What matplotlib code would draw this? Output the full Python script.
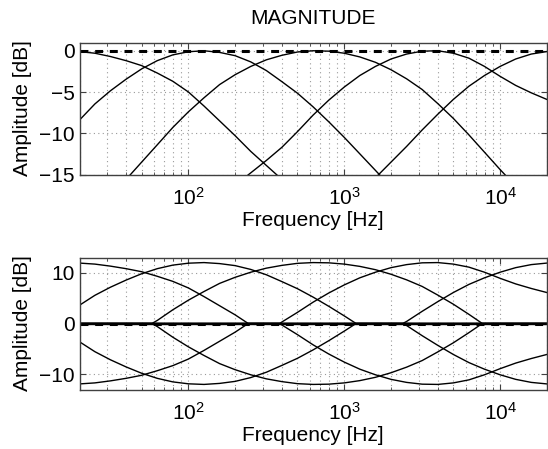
import numpy as np
import matplotlib
matplotlib.use("Agg")
import matplotlib.pyplot as plt
from matplotlib.ticker import LogLocator, NullFormatter, FixedLocator

plt.rcParams['font.family'] = ['Liberation Sans', 'DejaVu Sans']
plt.rcParams['mathtext.fontset'] = 'custom'
plt.rcParams['mathtext.rm'] = 'Liberation Sans'
plt.rcParams['mathtext.it'] = 'Liberation Sans'

nan = np.nan

# ---- frequency grid (Hz), 0.1-decade steps ----
FREQ_HZ = [20, 25.1, 31.6, 39.8, 50.1, 63.1, 79.4, 100, 125.9, 158.5, 199.5,
           251.2, 316.2, 398.1, 501.2, 631, 794.3, 1000, 1259, 1585, 1995,
           2512, 3162, 3981, 5012, 6310, 7943, 10000, 12589, 15849, 19953]

# ---- top panel: band magnitudes (dB) ----
BAND_LOW = [-0.1, -0.3, -0.7, -1.2, -1.8, -2.7, -3.7, -5.0, -6.7, -8.5, -10.3,
            -12.2, -13.9, -15.6, -17.4, nan, nan, nan, nan, nan, nan,
            nan, nan, nan, nan, nan, nan, nan, nan, nan, nan]
BAND_1 = [-8.4, -6.45, -4.85, -3.45, -2.2, -1.2, -0.5, -0.12, 0.0, -0.2, -0.6,
          -1.35, -2.4, -3.75, -5.15, -6.8, -8.6, -10.5, -12.5, -14.5, -16.5,
          -18.5, nan, nan, nan, nan, nan, nan, nan, nan, nan]
BAND_2 = [nan, nan, -17.6, -15.6, -13.5, -11.4, -9.3, -7.4, -5.7, -4.1, -2.9,
          -1.9, -1.1, -0.55, -0.15, 0.0, -0.05, -0.3, -0.75, -1.4, -2.3,
          -3.4, -4.7, -6.4, -8.2, -10.2, -12.3, -14.4, -16.4, -18.4, nan]
BAND_3 = [nan, nan, nan, nan, nan, nan, nan, nan, nan, nan, -16.3,
          -14.8, -13.3, -11.7, -9.8, -7.8, -6.0, -4.4, -3.0, -1.9, -1.0,
          -0.4, -0.05, 0.0, -0.3, -0.9, -1.9, -3.1, -4.2, -5.1, -5.9]
BAND_HIGH = [nan, nan, nan, nan, nan, nan, nan, nan, nan, nan, nan,
             nan, nan, nan, nan, nan, nan, nan, -17.2, -15.4, -13.5,
             -11.6, -9.6, -7.7, -5.9, -4.3, -3.0, -1.9, -1.0, -0.4, -0.1]
SUM_DB = [0.0] * len(FREQ_HZ)

# ---- bottom panel: +12 dB boost per band (cut curves are the mirror) ----
BOOST_LOW_HZ = [20, 25.1, 31.6, 39.8, 50.1, 63.1, 79.4, 100, 125.9, 158.5, 199.5, 242, 20000]
BOOST_LOW_DB = [11.9, 11.7, 11.3, 10.8, 10.2, 9.3, 8.3, 7.0, 5.3, 3.5, 1.7, 0.0, 0.0]

BOOST_1_HZ = [20, 25.1, 31.6, 39.8, 50.1, 63.1, 79.4, 100, 125.9, 158.5, 199.5,
              251.2, 316.2, 398.1, 501.2, 631, 794.3, 1000, 1191, 20000]
BOOST_1_DB = [3.6, 5.55, 7.15, 8.55, 9.8, 10.8, 11.5, 11.88, 12.0, 11.8, 11.4,
              10.65, 9.6, 8.25, 6.85, 5.2, 3.4, 1.5, 0.0, 0.0]

BOOST_2_HZ = [20, 58.3, 63.1, 79.4, 100, 125.9, 158.5, 199.5, 251.2, 316.2, 398.1,
              501.2, 631, 794.3, 1000, 1259, 1585, 1995, 2512, 3162, 3981,
              5012, 6310, 7690, 20000]
BOOST_2_DB = [0.0, 0.0, 0.6, 2.7, 4.6, 6.3, 7.9, 9.1, 10.1, 10.9, 11.45,
              11.85, 12.0, 11.95, 11.7, 11.25, 10.6, 9.7, 8.6, 7.3, 5.6,
              3.8, 1.8, 0.0, 0.0]

BOOST_3_HZ = [20, 385, 398.1, 501.2, 631, 794.3, 1000, 1259, 1585, 1995, 2512,
              3162, 3981, 5012, 6310, 7943, 10000, 12589, 15849, 19953]
BOOST_3_DB = [0.0, 0.0, 0.3, 2.2, 4.2, 6.0, 7.6, 9.0, 10.1, 11.0, 11.6,
              11.95, 12.0, 11.7, 11.1, 10.1, 8.9, 7.8, 6.9, 6.1]

BOOST_HIGH_HZ = [20, 2371, 2512, 3162, 3981, 5012, 6310, 7943, 10000, 12589, 15849, 19953]
BOOST_HIGH_DB = [0.0, 0.0, 0.4, 2.4, 4.3, 6.1, 7.7, 9.0, 10.1, 11.0, 11.6, 11.9]

FLAT_DB = [0.0, 0.0]
FLAT_HZ = [20, 20000]

TOP_YTICKS = [-15, -10, -5, 0]
BOT_YTICKS = [-10, 0, 10]

W, H = 548, 449
fig = plt.figure(figsize=(W / 100, H / 100), dpi=100)
ax1 = fig.add_axes([79.5 / W, 1 - 174.5 / H, (547 - 79.5) / W, (174.5 - 42.5) / H])
ax2 = fig.add_axes([79.5 / W, 1 - 389.5 / H, (547 - 79.5) / W, (389.5 - 257.5) / H])

FS = 15
lc = 'black'
DASH = (0, (2.6, 2.2))
for ax in (ax1, ax2):
    ax.set_xscale('log')
    ax.set_xlim(20, 20000)
    ax.grid(True, which='major', axis='both', linestyle=(0, (1, 3)), color='0.6', lw=0.8)
    ax.grid(True, which='minor', axis='x', linestyle=(0, (1, 3)), color='0.6', lw=0.8)
    ax.tick_params(which='both', direction='in', top=True, right=True, labelsize=FS,
                   color='0.25')
    ax.tick_params(which='major', length=4.5, width=0.8)
    ax.tick_params(which='minor', length=2.5, width=0.6)
    ax.tick_params(axis='x', which='major', pad=9)
    ax.xaxis.set_major_locator(LogLocator(base=10, numticks=10))
    ax.xaxis.set_minor_locator(LogLocator(base=10, subs=np.arange(2, 10), numticks=100))
    ax.xaxis.set_minor_formatter(NullFormatter())
    for s in ax.spines.values():
        s.set_linewidth(1.0)
        s.set_color('0.25')
    ax.set_xlabel('Frequency [Hz]', fontsize=FS, labelpad=1.5)
    ax.set_ylabel('Amplitude [dB]', fontsize=FS, labelpad=5)
    ax.set_axisbelow(True)

# top
for band in (BAND_LOW, BAND_1, BAND_2, BAND_3, BAND_HIGH):
    ax1.plot(FREQ_HZ, band, color=lc, lw=1.0)
ax1.plot(FREQ_HZ, SUM_DB, color=lc, lw=2.2, linestyle=DASH)
ax1.set_ylim(-15, 1)
ax1.yaxis.set_major_locator(FixedLocator(TOP_YTICKS))
ax1.set_title('MAGNITUDE', fontsize=FS, pad=13.5)

# bottom
for hz, db in ((BOOST_LOW_HZ, BOOST_LOW_DB), (BOOST_1_HZ, BOOST_1_DB),
               (BOOST_2_HZ, BOOST_2_DB), (BOOST_3_HZ, BOOST_3_DB),
               (BOOST_HIGH_HZ, BOOST_HIGH_DB)):
    ax2.plot(hz, db, color=lc, lw=1.0)
    ax2.plot(hz, [-v for v in db], color=lc, lw=1.0)
ax2.plot(FLAT_HZ, FLAT_DB, color=lc, lw=1.0)
ax2.plot(FLAT_HZ, FLAT_DB, color=lc, lw=2.2, linestyle=DASH)
ax2.set_ylim(-13, 13)
ax2.yaxis.set_major_locator(FixedLocator(BOT_YTICKS))

fig.savefig('out.png', dpi=100)
